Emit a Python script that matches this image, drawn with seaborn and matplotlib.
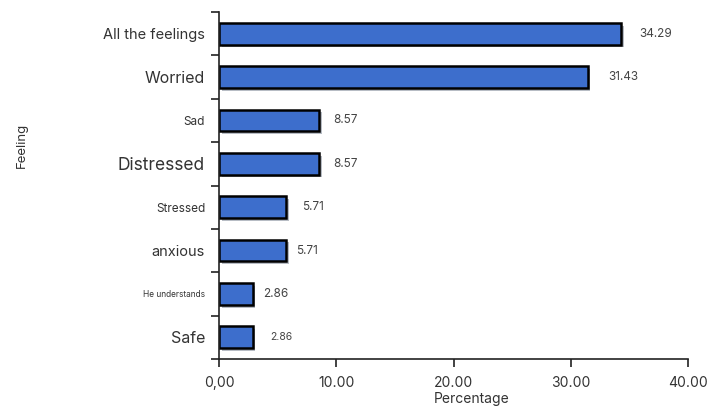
import matplotlib
matplotlib.use("Agg")
import matplotlib.pyplot as plt
import matplotlib.patheffects as pe
import seaborn as sns
import pandas as pd
import numpy as np

feelings = ["All the feelings", "Worried", "Sad", "Distressed", "Stressed",
            "anxious", "He understands", "Safe"]
percentages = [34.29, 31.43, 8.57, 8.57, 5.71, 5.71, 2.86, 2.86]
x_ticks = [0, 10, 20, 30, 40]
x_tick_labels = ["0,00", "10.00", "20.00", "30.00", "40.00"]

# styling (per-label font sizes and value-label gaps in the original)
cat_sizes = [10.5, 11.5, 8.5, 12.5, 8.5, 10.5, 6, 11.5]
val_sizes = [8.5, 8.5, 8.5, 8.5, 8.5, 8.5, 8.5, 7.5]
val_gaps = [1.6, 1.8, 1.2, 1.2, 1.4, 0.9, 0.9, 1.5]

sns.set_style("white", {"xtick.bottom": True, "ytick.left": True})
plt.rcParams["font.family"] = ["Inter", "DejaVu Sans"]

df = pd.DataFrame({"Feeling": feelings, "Percentage": percentages})

fig = plt.figure(figsize=(7.08, 4.08), dpi=100)
ax = fig.add_axes([219/708, 1-359/408, (688-219)/708, (359-12)/408])

sns.barplot(data=df, x="Percentage", y="Feeling", orient="h", ax=ax,
            color="#3d6ecc", edgecolor="black", linewidth=1.8, width=0.5,
            saturation=1)

for p in ax.patches:
    p.set_path_effects([pe.SimplePatchShadow(offset=(2, -2), alpha=0.3),
                        pe.Normal()])

ax.set_xlim(0, 40)
ax.set_ylim(len(feelings) - 0.5, -0.5)
ax.set_xticks(x_ticks)
ax.set_xticklabels(x_tick_labels, fontsize=10, color="#333333")
ax.set_yticks(range(len(feelings)))
ax.set_yticklabels(feelings, color="#333333")
for lbl, s in zip(ax.get_yticklabels(), cat_sizes):
    lbl.set_fontsize(s)
ax.tick_params(axis="y", which="major", left=False, length=0, pad=10)
ax.set_yticks(np.arange(-0.5, len(feelings), 1.0), minor=True)
ax.tick_params(axis="y", which="minor", left=True, length=6, width=1.2,
               color="#222222", direction="out")
ax.tick_params(axis="x", which="major", bottom=True, length=6, width=1.2,
               color="#222222", direction="out", pad=6)

for i, (v, s, g) in enumerate(zip(percentages, val_sizes, val_gaps)):
    ax.text(v + g, i, f"{v:.2f}", va="center", ha="left", fontsize=s,
            color="#444444")

for side in ["top", "right"]:
    ax.spines[side].set_visible(False)
for side in ["left", "bottom"]:
    ax.spines[side].set_color("#222222")
    ax.spines[side].set_linewidth(1.2)

ax.set_xlabel("")
ax.set_ylabel("")
fig.text(472/708, 1-399/408, "Percentage", ha="center", va="center",
         fontsize=10, color="#333333")
fig.text(22/708, 1-145/408, "Feeling", ha="center", va="center",
         rotation=90, fontsize=9.5, color="#333333")

fig.savefig("out.png", dpi=100)
